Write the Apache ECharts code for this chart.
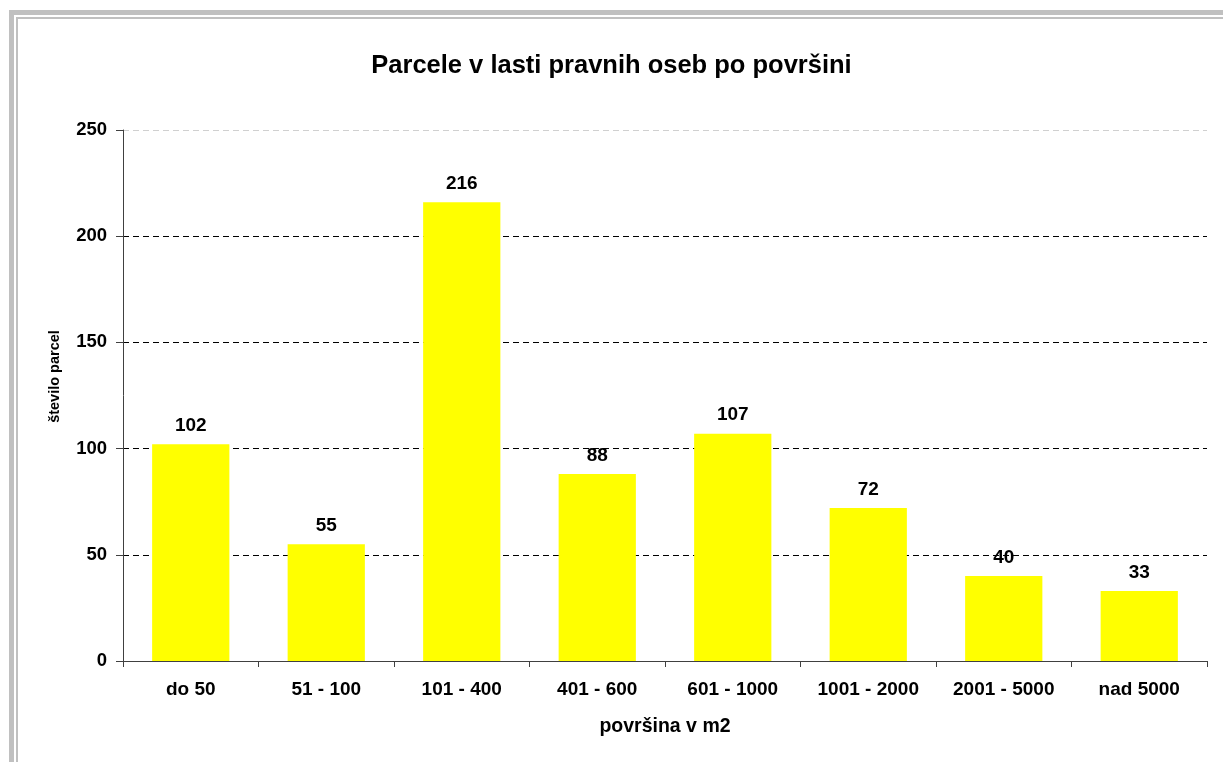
<!DOCTYPE html>
<html>
<head>
<meta charset="utf-8">
<script src="https://cdn.jsdelivr.net/npm/echarts@6/dist/echarts.min.js"></script>
<style>
  html, body { margin: 0; padding: 0; background: #fff; }
  #frame {
    position: absolute; left: 9px; top: 10px; right: -20px; bottom: -20px;
    border-left: 5px solid #c0c0c0; border-top: 5px solid #c0c0c0;
  }
  #inner {
    position: absolute; left: 16px; top: 17px; right: -20px; bottom: -20px;
    border-left: 2px solid #c0c0c0; border-top: 2px solid #c0c0c0;
  }
  #chart { position: absolute; left: 0; top: 0; width: 1223px; height: 762px; }
</style>
</head>
<body>
<div id="frame"></div>
<div id="inner"></div>
<div id="chart"></div>
<script>
// Land parcels owned by legal persons, grouped by area
const categories = ['do 50', '51 - 100', '101 - 400', '401 - 600', '601 - 1000', '1001 - 2000', '2001 - 5000', 'nad 5000'];
const parcelCounts = [102, 55, 216, 88, 107, 72, 40, 33];
const yTicks = [0, 50, 100, 150, 200, 250];

const font = '"Liberation Sans", Arial, sans-serif';
const chart = echarts.init(document.getElementById('chart'), null, { renderer: 'canvas' });

chart.setOption({
  backgroundColor: 'transparent',
  animation: false,
  title: {
    text: 'Parcele v lasti pravnih oseb po površini',
    left: 'center',
    top: 48,
    textStyle: { fontFamily: font, fontSize: 25.5, fontWeight: 'bold', color: '#000' }
  },
  grid: { left: 123, right: 16, top: 130, bottom: 101, containLabel: false },
  xAxis: {
    type: 'category',
    data: categories,
    name: 'površina v m2',
    nameLocation: 'middle',
    nameGap: 56,
    nameTextStyle: { fontFamily: font, fontSize: 19.5, fontWeight: 'bold', color: '#000' },
    axisLine: { lineStyle: { color: '#404040', width: 1 } },
    axisTick: { show: true, alignWithLabel: false, length: 6, lineStyle: { color: '#404040' } },
    axisLabel: { fontFamily: font, fontSize: 19, fontWeight: 'bold', color: '#000', margin: 19, interval: 0 }
  },
  yAxis: {
    type: 'value',
    min: yTicks[0],
    max: yTicks[yTicks.length - 1],
    interval: 50,
    name: 'število parcel',
    nameLocation: 'middle',
    nameGap: 61,
    // left padding lifts the rotated title a little above the plot's middle
    nameTextStyle: { fontFamily: font, fontSize: 14.5, fontWeight: 'bold', color: '#000', padding: [0, 0, 0, 38] },
    axisLine: { show: true, lineStyle: { color: '#404040', width: 1 } },
    axisTick: { show: true, length: 7, lineStyle: { color: '#404040' } },
    axisLabel: { fontFamily: font, fontSize: 18.5, fontWeight: 'bold', color: '#000', margin: 16 },
    splitLine: {
      show: true,
      lineStyle: {
        color: ['#000', '#000', '#000', '#000', '#000', '#d0d0d0'],
        type: [6, 4],
        width: 1
      }
    }
  },
  series: [{
    type: 'bar',
    data: parcelCounts,
    barWidth: '57%',
    itemStyle: { color: '#ffff00' },
    label: {
      show: true,
      position: 'top',
      distance: 9,
      fontFamily: font,
      fontSize: 19,
      fontWeight: 'bold',
      color: '#000'
    }
  }]
});
</script>
</body>
</html>
